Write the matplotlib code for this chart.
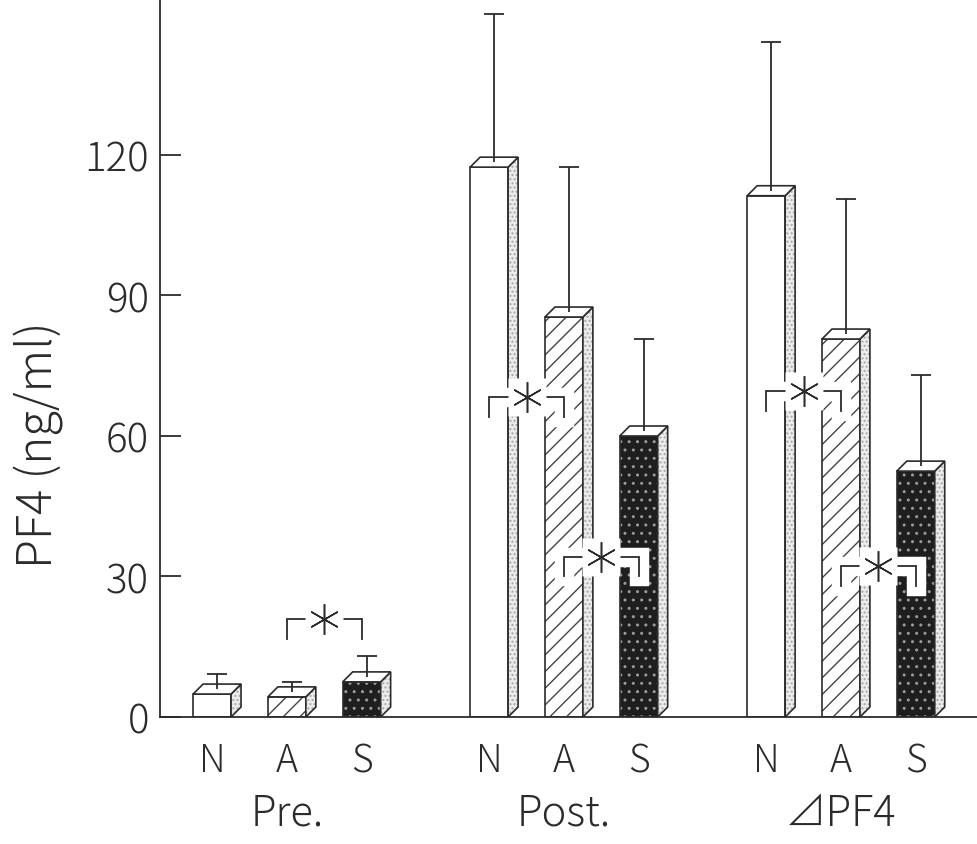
import matplotlib
matplotlib.use('Agg')
import matplotlib.pyplot as plt
import matplotlib.patheffects as pe
from matplotlib.patches import Polygon, Rectangle

plt.rcParams['font.family'] = ['Noto Sans CJK JP', 'DejaVu Sans']
plt.rcParams['font.weight'] = 'light'
plt.rcParams['hatch.linewidth'] = 1.0

# PF4 (ng/ml), mean and SD for each subject group
groups = ['Pre.', 'Post.', '⊿PF4']
subjects = ['N', 'A', 'S']
pre_mean = [4.9, 4.3, 7.5]
pre_sd = [2.2, 1.1, 3.4]
post_mean = [117.4, 85.4, 60.0]
post_sd = [30.6, 29.9, 18.6]
delta_mean = [111.3, 80.7, 52.5]
delta_sd = [30.7, 27.8, 18.4]

# significance brackets: (group, left bar, right bar, height)
sig_marks = [(0, 1, 2, 20.9), (1, 0, 1, 68.3), (1, 1, 2, 34.2),
             (2, 0, 1, 69.6), (2, 1, 2, 32.2)]

means = [pre_mean, post_mean, delta_mean]
sds = [pre_sd, post_sd, delta_sd]

ink = '#2b2b2b'
W, H = 977, 845
fig = plt.figure(figsize=(W / 100, H / 100), dpi=100)
ax = fig.add_axes([160 / W, 127 / H, 817 / W, 718 / H])
ax.set_xlim(-0.458, 2.491)
ax.set_ylim(0, 153.3)

step = 0.27      # distance between bars in a group
bw = 0.137       # front face width
dx, dy = 0.036, 2.13   # depth of the 3-D boxes


def bar_x(g, i):
    return g + (i - 1) * step


def draw_box(xc, h, kind):
    x0, x1 = xc - bw / 2, xc + bw / 2
    # front face
    if kind == 'N':
        ax.add_patch(Rectangle((x0, 0), bw, h, fc='white', ec=ink, lw=1.2, zorder=2))
    elif kind == 'A':
        ax.add_patch(Rectangle((x0, 0), bw, h, fc='white', ec='#444444', lw=0,
                               hatch='//', zorder=2))
        ax.add_patch(Rectangle((x0, 0), bw, h, fill=False, ec=ink, lw=1.2, zorder=2))
    else:
        ax.add_patch(Rectangle((x0, 0), bw, h, fc='#1e1e1e', ec='#9a9a9a', lw=0,
                               hatch='..', zorder=2))
        ax.add_patch(Rectangle((x0, 0), bw, h, fill=False, ec=ink, lw=1.2, zorder=2))
    # side face, stippled grey
    side = [(x1, 0), (x1 + dx, dy), (x1 + dx, h + dy), (x1, h)]
    ax.add_patch(Polygon(side, fc='#ececec', ec='#a8a8a8', lw=0, hatch='....', zorder=2))
    ax.add_patch(Polygon(side, fill=False, ec=ink, lw=1.2, zorder=2))
    # top face
    top = [(x0, h), (x0 + dx, h + dy), (x1 + dx, h + dy), (x1, h)]
    ax.add_patch(Polygon(top, fc='white', ec=ink, lw=1.2, zorder=2))


for g in range(len(groups)):
    for i, s in enumerate(subjects):
        xc = bar_x(g, i)
        m, sd = means[g][i], sds[g][i]
        draw_box(xc, m, s)
        ex = xc + dx / 2
        ax.vlines(ex, m + dy / 2, m + dy + sd, color=ink, lw=1.3, zorder=3)
        ax.hlines(m + dy + sd, ex - 0.036, ex + 0.036, color=ink, lw=1.3, zorder=3)

# significance brackets with a white halo over the bars
arm = 4.2
halo = [pe.Stroke(linewidth=14, foreground='white'), pe.Normal()]
for g, i, j, y in sig_marks:
    xa, xb = bar_x(g, i), bar_x(g, j)
    ax.plot([xa, xa, xb, xb], [y - arm, y, y, y - arm], color=ink, lw=1.3,
            solid_joinstyle='miter', path_effects=halo, zorder=4)
    xm = (xa + xb) / 2
    ax.plot(xm, y, marker='s', ms=27, mfc='white', mec='none', zorder=5)
    ax.plot(xm, y, marker=(6, 2, 0), ms=22, mec=ink, mew=1.1, zorder=6)

# axes styling
for side in ['top', 'right']:
    ax.spines[side].set_visible(False)
ax.spines['left'].set_color(ink)
ax.spines['bottom'].set_color(ink)
ax.spines['left'].set_linewidth(1.3)
ax.spines['bottom'].set_linewidth(1.3)

ax.set_yticks([0, 30, 60, 90, 120])
ax.tick_params(axis='y', direction='in', length=15, width=1.3, colors=ink,
               labelsize=29, pad=8)

xt = [bar_x(g, i) for g in range(len(groups)) for i in range(len(subjects))]
ax.set_xticks(xt)
ax.set_xticklabels(subjects * len(groups))
ax.tick_params(axis='x', length=0, labelsize=27, colors=ink, pad=17)

for g, name in enumerate(groups):
    ax.text(g, -0.134, name, transform=ax.get_xaxis_transform(), ha='center',
            va='center', fontsize=30, color=ink)

ax.set_ylabel('PF4 (ng/ml)', fontsize=34, fontweight='light', color=ink)
ax.yaxis.set_label_coords(-0.118, 0.38)

fig.savefig('out.png', dpi=100)
